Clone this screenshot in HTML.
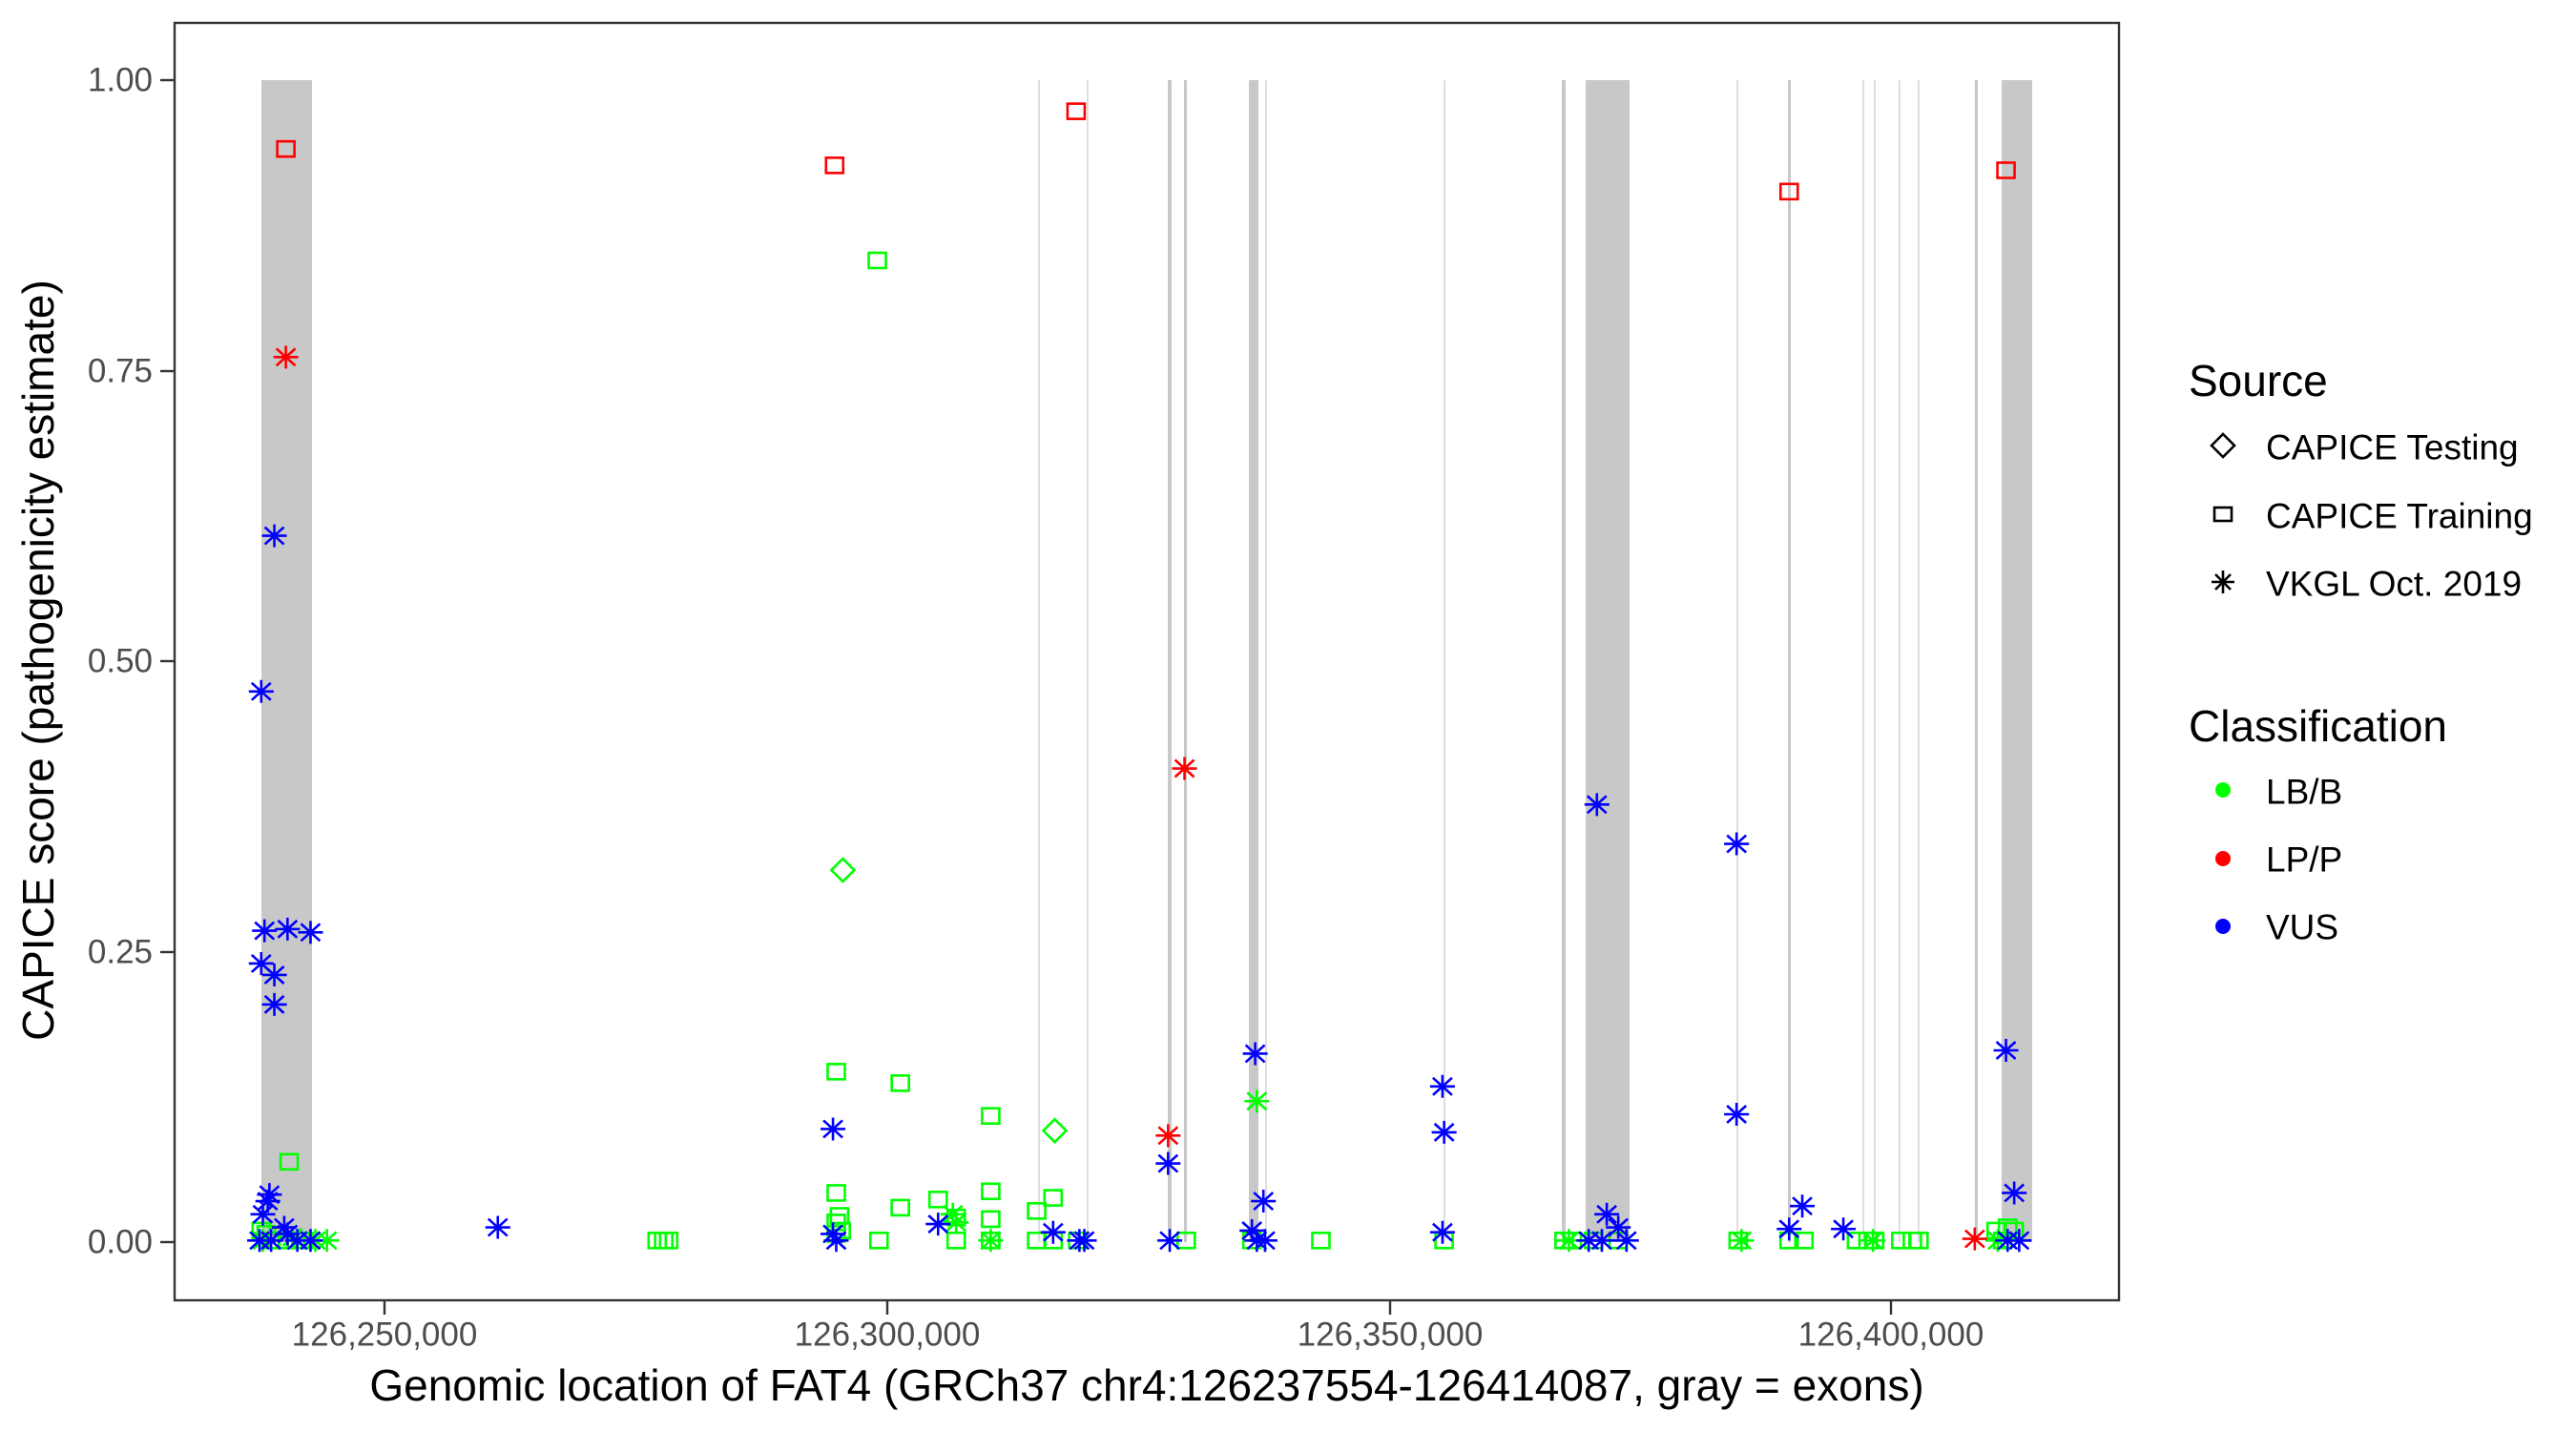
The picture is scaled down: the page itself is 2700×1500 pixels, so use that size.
<!DOCTYPE html>
<html><head><meta charset="utf-8"><style>
html,body{margin:0;padding:0;background:#fff;}
svg{display:block;font-family:"Liberation Sans",Arial,sans-serif;}
</style></head><body>
<svg id="s" width="2700" height="1500" viewBox="0 0 2700 1500" xmlns="http://www.w3.org/2000/svg">
<rect x="0" y="0" width="2700" height="1500" fill="#fff"/>
<g id="ex" fill="#c8c8c8"></g>
<g id="pts" fill="none" stroke-width="2.6"></g>
<rect x="183" y="24" width="2038" height="1339" fill="none" stroke="#333" stroke-width="2.4"/>
<g stroke="#333" stroke-width="2.4">
<line x1="168" y1="84" x2="183" y2="84"/><line x1="168" y1="389" x2="183" y2="389"/>
<line x1="168" y1="693" x2="183" y2="693"/><line x1="168" y1="998" x2="183" y2="998"/>
<line x1="168" y1="1302" x2="183" y2="1302"/>
<line x1="403" y1="1363" x2="403" y2="1378"/><line x1="930" y1="1363" x2="930" y2="1378"/>
<line x1="1457" y1="1363" x2="1457" y2="1378"/><line x1="1982" y1="1363" x2="1982" y2="1378"/>
</g>
<g font-size="35" fill="#4d4d4d" text-anchor="end" dominant-baseline="central">
<text x="160" y="84">1.00</text><text x="160" y="389">0.75</text><text x="160" y="693">0.50</text><text x="160" y="998">0.25</text><text x="160" y="1302">0.00</text>
</g>
<g font-size="35" fill="#4d4d4d" text-anchor="middle" dominant-baseline="central">
<text x="403" y="1399">126,250,000</text><text x="930" y="1399">126,300,000</text><text x="1457" y="1399">126,350,000</text><text x="1982" y="1399">126,400,000</text>
</g>
<text x="1202" y="1452" font-size="46" text-anchor="middle" dominant-baseline="central">Genomic location of FAT4 (GRCh37 chr4:126237554-126414087, gray = exons)</text>
<text transform="translate(40,692) rotate(-90)" font-size="46" text-anchor="middle" dominant-baseline="central">CAPICE score (pathogenicity estimate)</text>
<g font-size="46" dominant-baseline="central"><text x="2294" y="399">Source</text><text x="2294" y="761">Classification</text></g>
<g font-size="37" dominant-baseline="central">
<text x="2375" y="469">CAPICE Testing</text><text x="2375" y="541">CAPICE Training</text><text x="2375" y="612">VKGL Oct. 2019</text>
<text x="2375" y="830">LB/B</text><text x="2375" y="901">LP/P</text><text x="2375" y="972">VUS</text>
</g>
<g stroke="#000" stroke-width="2.6" fill="none">
<path d="M2318 467 L2330 455 L2342 467 L2330 479 Z"/>
<rect x="2321" y="532" width="18" height="14"/>
<path d="M2318 610 H2342 M2330 598 V622 M2322 602 L2338 618 M2338 602 L2322 618"/>
</g>
<circle cx="2330" cy="828" r="8" fill="#00ff00"/><circle cx="2330" cy="900" r="8" fill="#ff0000"/><circle cx="2330" cy="971" r="8" fill="#0000ff"/>
</svg>
<script>
var NS="http://www.w3.org/2000/svg";
var ex=document.getElementById('ex');
[[274,327],[1088,1090],[1139,1141],[1224,1228],[1241,1244],[1309,1319],[1326,1328],[1513,1515],[1637,1641],[1662,1708],[1820,1822],[1874,1877],[1952,1954],[1964,1966],[1990,1992],[2010,2012],[2070,2073],[2098,2130]].forEach(function(b){
var r=document.createElementNS(NS,'rect');r.setAttribute('x',b[0]);r.setAttribute('y',84);r.setAttribute('width',b[1]-b[0]);r.setAttribute('height',1218);
if(b[1]-b[0]<=2)r.setAttribute('fill','#dedede');ex.appendChild(r);});
var G='#00ff00',R='#ff0000',B='#0000ff';
var P=[];
function add(c,sh,list){list.forEach(function(p){P.push([p[0],p[1],sh,c]);});}
add(G,'s',[[176,708],[534,158],[509,653],[548,660],[603,680],[509,727],[603,726],[571,731],[641,730],[631,738],[548,736],[511,741],[603,743],[582,742],[509,745],[400,756],[404,756],[407,756],[509,752],[512,750],[535,756],[582,756],[603,756],[631,756],[641,756],[656,756],[722,756],[762,756],[804,756],[879,756],[952,756],[957,756],[970,756],[985,756],[1058,756],[1089,756],[1098,756],[1130,756],[1137,756],[1141,756],[1157,756],[1164,756],[1168,756],[1215,750],[1222,748],[1226,750],[1219,756],[159,750],[162,752],[165,756],[170,756],[175,756],[180,756],[185,756]]);
add(G,'d',[[513,530],[642,689]]);
add(G,'a',[[765,671],[580,740],[582,745],[603,756],[192,756],[199,756],[160,756],[178,754],[955,756],[1060,756],[1140,756],[1216,756]]);
add(R,'s',[[174,90],[508,100],[655,67],[1089,116],[1221,103]]);
add(R,'a',[[174,217],[721,468],[711,692],[1202,755]]);
add(B,'a',[[167,326],[159,421],[161,567],[175,566],[189,568],[159,587],[167,594],[167,612],[164,728],[163,732],[160,740],[173,748],[175,752],[165,756],[158,756],[181,756],[189,756],[303,748],[507,688],[507,752],[509,756],[571,746],[641,751],[657,756],[660,756],[711,709],[712,756],[764,642],[769,732],[762,750],[765,756],[770,756],[878,662],[879,690],[878,751],[972,490],[978,740],[967,756],[975,756],[985,748],[990,756],[1057,514],[1057,679],[1089,749],[1097,735],[1122,749],[1221,640],[1226,727],[1222,756],[1229,756]]);
var g=document.getElementById('pts'),k=1.722;
P.forEach(function(p){
var x=p[0]*k,y=1302-(757-p[1])/709*1218,e;
if(p[2]=='s'){e=document.createElementNS(NS,'rect');e.setAttribute('x',x-9);e.setAttribute('y',y-8);e.setAttribute('width',18);e.setAttribute('height',16);}
else if(p[2]=='d'){e=document.createElementNS(NS,'path');e.setAttribute('d','M'+(x-12)+' '+y+' L'+x+' '+(y-12)+' L'+(x+12)+' '+y+' L'+x+' '+(y+12)+' Z');}
else{e=document.createElementNS(NS,'path');e.setAttribute('d','M'+(x-13)+' '+y+' H'+(x+13)+' M'+x+' '+(y-12)+' V'+(y+12)+' M'+(x-10)+' '+(y-9)+' L'+(x+10)+' '+(y+9)+' M'+(x+10)+' '+(y-9)+' L'+(x-10)+' '+(y+9));}
e.setAttribute('stroke',p[3]);g.appendChild(e);});
</script>
</body></html>
